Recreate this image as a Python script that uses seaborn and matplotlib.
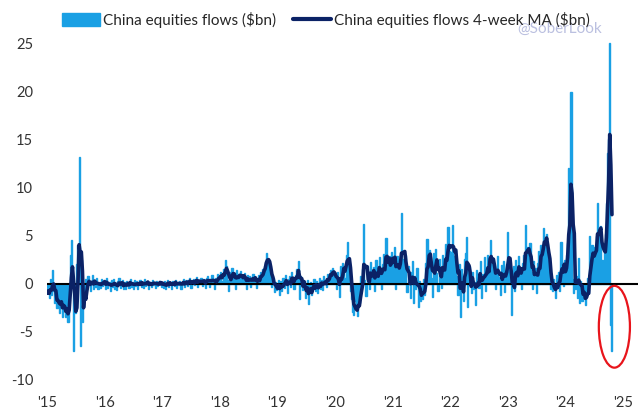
import numpy as np
import pandas as pd
import matplotlib
matplotlib.use("Agg")
import matplotlib.pyplot as plt
import seaborn as sns
from matplotlib.patches import Ellipse, Patch
from matplotlib.lines import Line2D

# ---- data: weekly China equity fund flows ($bn) ----
flows_2015 = [-1.0, -0.5, -1.5, 0.5, -1.2, 1.4, -0.8, -2.0, -1.5, -2.5, -1.0, -3.0, -2.0, -1.5, -3.5, -2.0, -2.5,
              -3.5, -2.5, -4.0, -1.0, 3.0, 4.5, 0.5, -7.0, -2.0, -3.0, 2.0, 4.0, 13.2,
              -6.5, 2.5, -4.0, -2.0,
              -1.0, 0.5, -0.5, 0.8, 0.2, -0.8, 0.3, 0.9, -0.5, 0.4, -0.3, 0.6, -0.6, 0.2, -0.4, 0.5, -0.2, 0.3]
flows_2016 = [0.3, -0.6, 0.6, -0.4, 0.2, -0.8, 0.4, -0.3, 0.5, -0.5, 0.1, -0.7, 0.3, 0.6, -0.4, -0.2, 0.4, -0.6,
              0.2, -0.5, 0.3, 0.1, -0.4, 0.5, -0.3, 0.2, -0.6, 0.4, -0.2, 0.3, -0.5, 0.1, 0.4, -0.3, 0.2, -0.4,
              0.5, -0.2, 0.1, 0.3, -0.5, 0.2, -0.3, 0.4, -0.1, 0.2, -0.4, 0.3, -0.2, 0.1, 0.3, -0.3]
flows_2017 = [0.2, -0.4, 0.3, -0.6, 0.1, 0.4, -0.3, 0.2, -0.5, 0.3, 0.1, -0.2, 0.4, -0.4, 0.2, -0.1, 0.3, -0.5,
              0.2, 0.5, -0.3, 0.1, 0.4, -0.2, 0.3, 0.6, -0.4, 0.2, 0.5, -0.1, 0.3, 0.7, -0.3, 0.4, 0.2, 0.6,
              -0.2, 0.5, 0.3, -0.4, 0.6, 0.8, 0.2, -0.3, 0.5, 0.9, 0.3, -0.5, 0.6, 0.4, 1.0, 0.2]
flows_2018 = [0.8, 1.2, 0.3, 1.5, 0.6, 2.5, 1.8, 0.4, -0.8, 1.2, 0.9, 1.6, 0.5, 1.1, -0.6, 1.4, 0.8, 1.0,
              0.3, 1.3, 0.7, 0.2, 1.1, 0.6, -0.5, 0.9, 0.4, 0.8, -0.3, 0.6, 1.0, 0.2, 0.7, -0.4, 0.5, 0.9,
              0.3, 1.2, 0.8, 1.5, 1.8, 2.2, 3.2, 2.6, 2.0, 1.4, 0.9, -0.3, 0.6, -0.9, 0.2, -0.7]
flows_2019 = [-0.5, 0.4, -1.2, 0.3, -0.8, 0.6, -0.4, 0.9, 0.2, -1.0, 0.5, 0.8, -0.3, 1.2, 0.6, -0.6, 0.9, 1.5,
              0.7, 2.4, -1.6, 0.8, 0.5, -0.7, 0.3, -1.5, -0.9, 0.4, -2.1, -0.6, 0.2, -1.2, -0.4, 0.5, -0.8, 0.3,
              -1.0, -0.2, 0.6, -0.5, 0.4, -0.7, 0.8, 0.2, -0.3, 1.0, 0.5, 0.9, 1.4, 0.7, 1.6, 1.2]
flows_2020 = [0.8, -0.6, 1.2, 0.5, -1.4, 1.8, 0.9, 2.2, 1.5, 0.6, 3.0, 4.3, 2.1, 1.0, -0.8, -1.6, -2.9, -3.2,
              -1.8, -2.6, -3.4, -1.2, -2.0, 0.8, -0.5, 1.5, 6.2, 0.4, -1.3, 1.8, 0.9, -0.6, 2.3, 1.2, 0.3, 1.7,
              -0.8, 2.5, 1.0, 0.4, 2.8, 1.6, -0.5, 2.0, 3.1, 1.2, 4.7, 2.4, 0.6, 2.9, 1.8, 3.3]
flows_2021 = [2.5, 1.4, 3.8, -0.6, 2.9, 1.8, 2.4, 1.2, 7.3, 2.0, 2.6, 1.5, 3.0, -0.9, 1.8, 0.6, -1.5, 1.2,
              2.4, -2.0, 0.8, -0.6, 1.6, -2.4, 0.3, -1.8, -0.9, -1.6, 0.5, -1.2, 2.2, 4.6, 1.4, 3.5, 2.8, 0.6,
              -1.4, 3.2, 2.0, 3.6, 1.1, -0.8, 2.6, 1.5, -0.4, 3.0, 2.2, 0.9, 4.1, 2.5, 5.9, 3.4]
flows_2022 = [3.3, 3.0, 6.1, 2.9, 1.4, 3.6, 0.8, -1.2, 2.0, -3.5, 1.5, 0.4, -1.8, 2.6, 3.2, 4.9, -2.4, 1.8,
              0.5, -1.0, 1.2, -0.6, 0.2, -2.2, 1.4, 0.8, -0.4, 2.4, -1.5, 1.0, 0.6, 2.8, -0.8, 1.6, 3.0, 1.2,
              4.5, 2.6, 0.9, 2.2, 1.8, -0.5, 1.4, 2.9, 0.7, -1.2, 1.9, 0.4, 2.4, -0.9, 1.3, 2.0]
flows_2023 = [5.4, 2.1, 1.0, -3.2, 0.6, 1.8, -0.8, 2.5, 1.2, 0.4, 2.9, 1.6, -0.5, 2.2, 3.0, 1.4, 6.1, 2.6,
              3.8, 2.0, 4.2, 1.2, -0.6, 2.4, 0.8, 1.6, -1.0, 2.2, 3.4, 1.8, 4.0, 2.9, 5.8, 4.6, 3.4, 5.2,
              3.0, 1.4, 0.8, -0.6, -0.8, 0.5, -0.6, -1.5, 0.9, -0.4, 1.2, -0.8, 4.3, 1.5, -0.2, 2.5]
flows_2024 = [1.2, 3.0, 4.2, 12.0, 5.2, 19.9, 0.5, -1.0, 1.5, -0.5, 0.8, -1.5, 2.7, -2.0, 0.3, -1.8, -0.9, -1.2,
              -2.2, -1.4, 0.6, -1.0, 5.0, 2.2, 4.0, 1.5, 3.8, 3.5, 5.0, 8.4, 3.5, 5.2, 6.0, 2.5, 1.5, 4.0,
              5.2, 8.4, 13.6, 15.0, 25.0, -4.3, -7.0]

years = [2015, 2016, 2017, 2018, 2019, 2020, 2021, 2022, 2023, 2024]
yearly_flows = [flows_2015, flows_2016, flows_2017, flows_2018, flows_2019,
                flows_2020, flows_2021, flows_2022, flows_2023, flows_2024]
tick_years = list(range(2015, 2026))
tick_labels = ["'15", "'16", "'17", "'18", "'19", "'20", "'21", "'22", "'23", "'24", "'25"]
y_ticks = [-10, -5, 0, 5, 10, 15, 20, 25]

bar_label = "China equities flows ($bn)"
ma_label = "China equities flows 4-week MA ($bn)"

# ---- build table ----
rows = []
for yr, vals in zip(years, yearly_flows):
    for wk, v in enumerate(vals):
        rows.append({"t": yr + wk / 52.0, "flow": v})
df = pd.DataFrame(rows)
df["ma"] = df["flow"].rolling(4, min_periods=1).mean()

BAR = "#1AA0E4"
MA = "#0B2266"

sns.set_style("white")
plt.rcParams["font.family"] = ["Lato", "DejaVu Sans"]

fig = plt.figure(figsize=(6.41, 4.2), dpi=100)
ax = fig.add_axes([47 / 641, 35.2 / 420, (638 - 47) / 641, 0.8367])

sns.barplot(data=df, x="t", y="flow", native_scale=True, width=1.0, color=BAR,
            saturation=1, edgecolor=BAR, linewidth=1.0, errorbar=None, ax=ax)
ax.axhline(0, color="black", lw=1.5, zorder=3)
sns.lineplot(data=df, x="t", y="ma", color=MA, lw=2.6, sort=False, ax=ax, zorder=4)

ax.add_patch(Ellipse((2024.85, -4.47), width=0.54, height=8.5, fill=False,
                     edgecolor="#E8141B", lw=1.6, zorder=5))

ax.set_xlim(2015.0, 2025.26)
ax.set_ylim(-10.5, 26)
ax.set_xticks(tick_years)
ax.set_xticklabels(tick_labels)
ax.set_yticks(y_ticks)
ax.set_yticklabels([str(v) for v in y_ticks])
ax.set_xlabel("")
ax.set_ylabel("")
ax.tick_params(axis="x", length=0, pad=8, labelsize=10.5, labelcolor="#333333")
ax.tick_params(axis="y", length=0, pad=10, labelsize=10.5, labelcolor="#333333")
sns.despine(ax=ax, left=True, bottom=True)
ax.grid(False)

handles = [Patch(facecolor=BAR, edgecolor=BAR), Line2D([0], [0], color=MA, lw=3)]
fig.legend(handles, [bar_label, ma_label], loc="center left",
           bbox_to_anchor=(62 / 641, 1 - 20 / 420), ncol=2, frameon=False,
           handlelength=2.5, handleheight=0.9, handletextpad=0.2, columnspacing=1.1,
           borderaxespad=0, borderpad=0, fontsize=11)

fig.text(517 / 641, 1 - 29 / 420, "@SoberLook", color="#BBC0E0", fontsize=11,
         ha="left", va="center", zorder=0)

fig.savefig("out.png", dpi=100)
